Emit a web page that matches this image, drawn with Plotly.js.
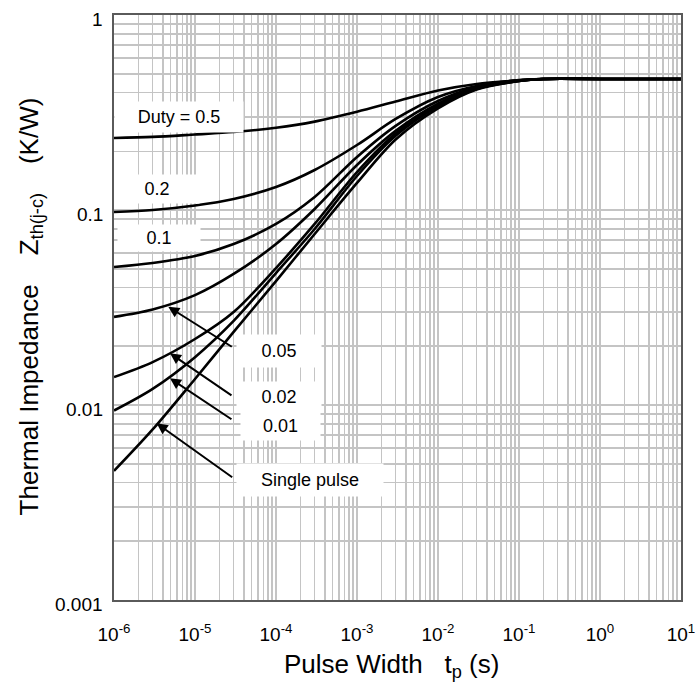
<!DOCTYPE html>
<html>
<head>
<meta charset="utf-8">
<script src="https://cdn.plot.ly/plotly-3.0.1.min.js"></script>
<style>
  html, body { margin: 0; padding: 0; background: #ffffff; }
  #chart { width: 697px; height: 688px; }
</style>
</head>
<body>
<div id="chart"></div>
<script>
// Transient thermal impedance Zth(j-c) versus pulse width, one curve per duty cycle
const pulseWidth = [1e-6, 3e-6, 1e-5, 3e-5, 1e-4, 3e-4, 1e-3, 3e-3, 1e-2, 3e-2, 0.1, 0.2, 1, 10];

const zthDuty50 = [0.234, 0.237, 0.244, 0.251, 0.264, 0.284, 0.319, 0.360, 0.410, 0.443, 0.462, 0.470, 0.470, 0.470];
const zthDuty20 = [0.0977, 0.100, 0.1055, 0.1139, 0.1312, 0.1604, 0.2154, 0.2929, 0.3797, 0.4324, 0.464, 0.470, 0.470, 0.470];
const zthDuty10 = [0.0510, 0.0535, 0.0581, 0.0669, 0.0848, 0.1166, 0.1870, 0.2700, 0.3620, 0.4272, 0.4625, 0.470, 0.470, 0.470];
const zthDuty05 = [0.0283, 0.0309, 0.0366, 0.0470, 0.0669, 0.1012, 0.1702, 0.2545, 0.3510, 0.4222, 0.4614, 0.470, 0.470, 0.470];
const zthDuty02 = [0.0139, 0.0166, 0.0218, 0.0300, 0.0504, 0.0848, 0.1566, 0.2468, 0.3450, 0.4197, 0.4587, 0.470, 0.470, 0.470];
const zthDuty01 = [0.00937, 0.0121, 0.0176, 0.0270, 0.0475, 0.0799, 0.1494, 0.2400, 0.3395, 0.4173, 0.4587, 0.470, 0.470, 0.470];
const zthSingle = [0.00459, 0.00749, 0.0136, 0.0237, 0.0432, 0.0753, 0.1376, 0.2300, 0.3320, 0.4148, 0.4587, 0.470, 0.470, 0.470];

const seriesNames = ['Duty = 0.5', '0.2', '0.1', '0.05', '0.02', '0.01', 'Single pulse'];
const seriesValues = [zthDuty50, zthDuty20, zthDuty10, zthDuty05, zthDuty02, zthDuty01, zthSingle];

const xDecades = [-6, -5, -4, -3, -2, -1, 0, 1];
const xTickText = ['10<sup>-6</sup>', '10<sup>-5</sup>', '10<sup>-4</sup>', '10<sup>-3</sup>',
                   '10<sup>-2</sup>', '10<sup>-1</sup>', '10<sup>0</sup>', '10<sup>1</sup>'];
const yDecades = [-3, -2, -1, 0];
const yTickText = ['0.001', '0.01', '0.1', '1'];

// decade positions carry the labels, 2..9 of every decade get a minor grid line
function decadeVals(decades) {
  return decades.map(d => Math.pow(10, d));
}
function minorVals(decades) {
  const vals = [];
  for (let i = 0; i < decades.length - 1; i++) {
    for (let k = 2; k <= 9; k++) vals.push(k * Math.pow(10, decades[i]));
  }
  return vals;
}

const FONT = 'Liberation Sans, Arial, Helvetica, sans-serif';
const GRID = '#c4c4c4';

const traces = seriesValues.map((vals, i) => ({
  x: pulseWidth,
  y: vals,
  name: seriesNames[i],
  type: 'scatter',
  mode: 'lines',
  line: { color: '#000000', width: 2.6, shape: 'spline', smoothing: 0.9 },
  hoverinfo: 'x+y+name'
}));

// label boxes (white background hides the grid behind the text)
function labelBox(text, lx, ly, w, h) {
  return {
    text: text, xref: 'x', yref: 'y', x: lx, y: ly,
    showarrow: false, bgcolor: '#ffffff', width: w, height: h,
    font: { family: FONT, size: 18, color: '#000000' },
    xanchor: 'center', yanchor: 'middle'
  };
}
// pointer arrows from the label boxes to their curves
function pointer(px, py, ax, ay) {
  return {
    text: '', xref: 'x', yref: 'y', x: px, y: py, ax: ax, ay: ay,
    showarrow: true, arrowhead: 2, arrowsize: 1.1, arrowwidth: 2,
    arrowcolor: '#000000', standoff: 0
  };
}
// decade labels of the impedance axis, set just left of the frame
const yTickLabels = yDecades.map((d, i) => ({
  text: yTickText[i], xref: 'paper', yref: 'y', x: 0, y: d,
  xanchor: 'right', yanchor: 'middle', xshift: -9, yshift: -4,
  showarrow: false, font: { family: FONT, size: 19, color: '#000000' }
}));

const NB = '&nbsp;&nbsp;&nbsp;&nbsp;';
const annotations = [
  labelBox('Duty = 0.5', -5.198, -0.523, 126, 28),
  labelBox('0.2', -5.470, -0.892, 82, 26),
  labelBox('0.1', -5.450, -1.144, 80, 24),
  labelBox('0.05', -3.963, -1.723, 82, 30),
  labelBox('0.02', -3.963, -1.959, 82, 28),
  labelBox('0.01', -3.950, -2.108, 77, 26),
  labelBox('Single pulse', -3.580, -2.385, 144, 30),
  pointer(-5.330, -1.496, 65, 41),
  pointer(-5.309, -1.735, 63, 43),
  pointer(-5.309, -1.863, 63, 42),
  pointer(-5.473, -2.094, 77, 55),
  {
    text: 'Thermal Impedance' + NB + 'Z<sub>th(j-c)</sub>' + NB + '(K/W)',
    xref: 'paper', yref: 'paper', x: -0.148, y: 0.502,
    textangle: -90, showarrow: false,
    font: { family: FONT, size: 26, color: '#000000' },
    xanchor: 'center', yanchor: 'middle'
  },
  {
    text: 'Pulse Width&nbsp;&nbsp;&nbsp;t<sub>p</sub> (s)',
    xref: 'paper', yref: 'paper', x: 0.49, y: -0.112,
    showarrow: false,
    font: { family: FONT, size: 26, color: '#000000' },
    xanchor: 'center', yanchor: 'middle'
  }
].concat(yTickLabels);

const axisCommon = {
  type: 'log',
  tickmode: 'array',
  showgrid: true,
  gridcolor: GRID,
  gridwidth: 1.6,
  zeroline: false,
  showline: true,
  linecolor: '#5a5a5a',
  linewidth: 1.6,
  mirror: true,
  ticks: 'outside',
  tickcolor: 'rgba(0,0,0,0)',
  tickfont: { family: FONT, size: 19, color: '#000000' }
};

const layout = {
  width: 697,
  height: 688,
  margin: { l: 114, r: 16, t: 15, b: 88 },
  paper_bgcolor: '#ffffff',
  plot_bgcolor: '#ffffff',
  showlegend: false,
  xaxis: Object.assign({}, axisCommon, {
    range: [-6, 1],
    tickvals: decadeVals(xDecades),
    ticktext: xTickText,
    ticklen: 17,
    minor: { tickmode: 'array', tickvals: minorVals(xDecades), showgrid: true,
             gridcolor: GRID, gridwidth: 1.6, ticks: '' }
  }),
  yaxis: Object.assign({}, axisCommon, {
    range: [-3, 0],
    tickvals: decadeVals(yDecades),
    showticklabels: false,
    ticklen: 6,
    minor: { tickmode: 'array', tickvals: minorVals(yDecades), showgrid: true,
             gridcolor: GRID, gridwidth: 1.6, ticks: '' }
  }),
  annotations: annotations
};

Plotly.newPlot('chart', traces, layout, { displayModeBar: false, staticPlot: true });
</script>
</body>
</html>
